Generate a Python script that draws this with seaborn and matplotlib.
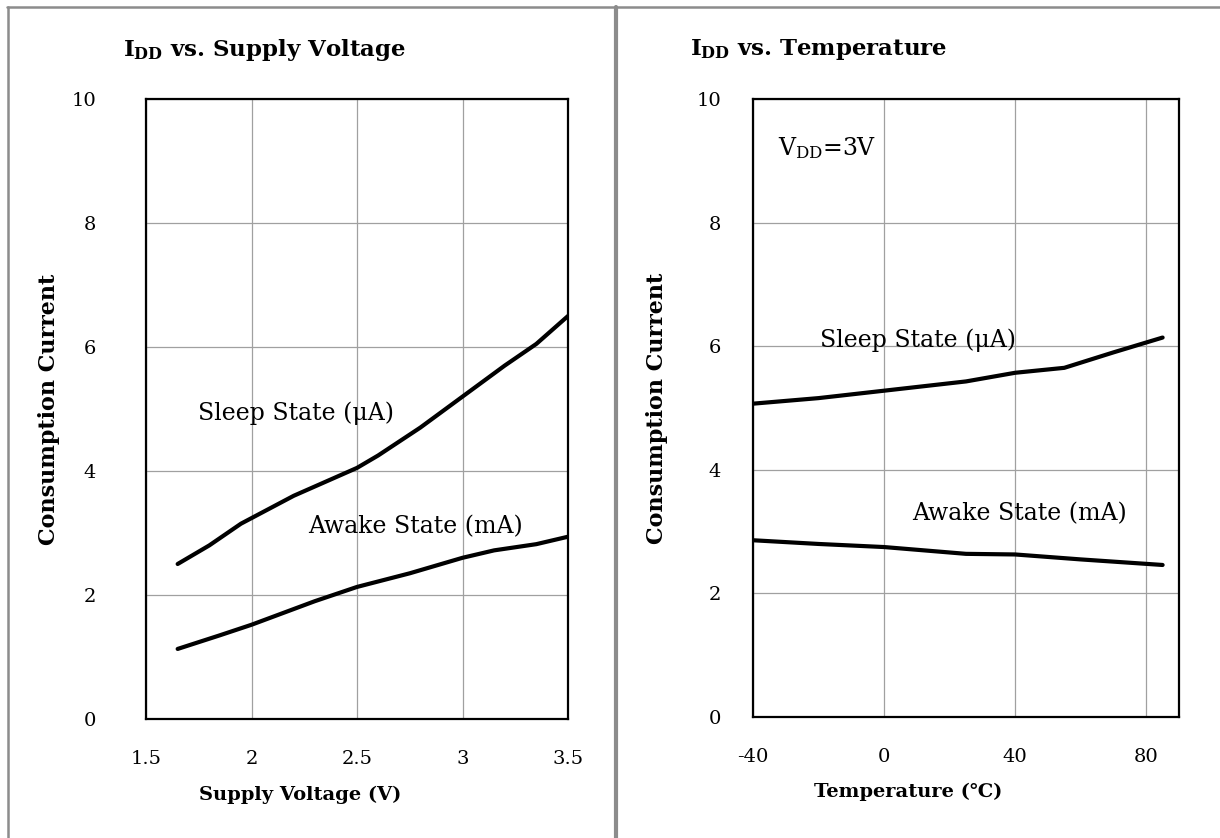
import numpy as np
import pandas as pd
import matplotlib
matplotlib.use('Agg')
import matplotlib.pyplot as plt
from matplotlib.lines import Line2D
import seaborn as sns

# left chart: current vs supply voltage
volt_sleep_x = [1.65, 1.8, 1.95, 2.2, 2.5, 2.6, 2.8, 3.0, 3.2, 3.35, 3.5]
volt_sleep_y = [2.5, 2.8, 3.15, 3.6, 4.05, 4.25, 4.7, 5.2, 5.7, 6.05, 6.5]
volt_awake_x = [1.65, 1.85, 2.0, 2.3, 2.5, 2.75, 3.0, 3.15, 3.35, 3.5]
volt_awake_y = [1.13, 1.35, 1.52, 1.9, 2.13, 2.35, 2.6, 2.72, 2.82, 2.94]

# right chart: current vs temperature (VDD = 3V)
temp_sleep_x = [-40, -20, 0, 25, 40, 55, 70, 85]
temp_sleep_y = [5.07, 5.16, 5.28, 5.43, 5.57, 5.65, 5.9, 6.14]
temp_awake_x = [-40, -20, 0, 25, 40, 60, 85]
temp_awake_y = [2.86, 2.8, 2.75, 2.64, 2.63, 2.55, 2.46]

volt_ticks = [1.5, 2, 2.5, 3, 3.5]
volt_tick_labels = ['1.5', '2', '2.5', '3', '3.5']
temp_ticks = [-40, 0, 40, 80]
temp_tick_labels = ['-40', '0', '40', '80']
current_ticks = [0, 2, 4, 6, 8, 10]

sns.set_theme(style='white')
plt.rcParams['font.family'] = ['DejaVu Serif', 'DejaVu Sans']
plt.rcParams['mathtext.fontset'] = 'dejavuserif'
plt.rcParams['text.color'] = 'black'
plt.rcParams['xtick.color'] = 'black'
plt.rcParams['ytick.color'] = 'black'
plt.rcParams['axes.labelcolor'] = 'black'

volt_df = pd.concat([
    pd.DataFrame({'x': volt_sleep_x, 'y': volt_sleep_y, 'state': 'sleep'}),
    pd.DataFrame({'x': volt_awake_x, 'y': volt_awake_y, 'state': 'awake'}),
])
temp_df = pd.concat([
    pd.DataFrame({'x': temp_sleep_x, 'y': temp_sleep_y, 'state': 'sleep'}),
    pd.DataFrame({'x': temp_awake_x, 'y': temp_awake_y, 'state': 'awake'}),
])

fig = plt.figure(figsize=(12.2, 8.38), dpi=100)
ax1 = fig.add_axes([146 / 1220, 1 - 719 / 838, 422 / 1220, 620 / 838])
ax2 = fig.add_axes([753 / 1220, 1 - 717 / 838, 426 / 1220, 618 / 838])

pal = {'sleep': 'black', 'awake': 'black'}
sns.lineplot(data=volt_df, x='x', y='y', hue='state', palette=pal, lw=3,
             legend=False, ax=ax1, sort=False)
sns.lineplot(data=temp_df, x='x', y='y', hue='state', palette=pal, lw=3,
             legend=False, ax=ax2, sort=False)

ax1.set_xlim(1.5, 3.5)
ax1.set_xticks(volt_ticks)
ax1.set_xticklabels(volt_tick_labels)
ax2.set_xlim(-40, 90)
ax2.set_xticks(temp_ticks)
ax2.set_xticklabels(temp_tick_labels)

for ax, ypad in [(ax1, 36), (ax2, 23)]:
    ax.set_ylim(0, 10)
    ax.set_yticks(current_ticks)
    ax.grid(True, color='#a0a0a0', lw=0.9)
    ax.tick_params(axis='both', length=0, labelsize=14)
    ax.tick_params(axis='y', pad=ypad)
    ax.tick_params(axis='x', pad=22)
    for s in ax.spines.values():
        s.set_color('black')
        s.set_linewidth(1.6)
    ax.set_xlabel('')
    ax.set_ylabel('Consumption Current', fontsize=16, fontweight='bold')

ax1.yaxis.set_label_coords((60 - 146) / 422, 0.5)
ax2.yaxis.set_label_coords((668 - 753) / 426, 0.5)

fig.text(300 / 1220, 1 - 795 / 838, 'Supply Voltage (V)', ha='center', va='center',
         fontsize=14, fontweight='bold')
fig.text(908 / 1220, 1 - 792 / 838, 'Temperature (\u2103)', ha='center', va='center',
         fontsize=14, fontweight='bold')

fig.text(123 / 1220, 1 - 50 / 838, r'$\mathbf{I_{DD}}$ vs. Supply Voltage', ha='left',
         va='center', fontsize=16.5, fontweight='bold')
fig.text(690 / 1220, 1 - 50 / 838, r'$\mathbf{I_{DD}}$ vs. Temperature', ha='left',
         va='center', fontsize=16.5, fontweight='bold')

ax1.text(1.746, 4.93, 'Sleep State (\u03bcA)', ha='left', va='center', fontsize=17)
ax1.text(2.268, 3.1, 'Awake State (mA)', ha='left', va='center', fontsize=17)
ax2.text(-32.4, 9.2, r'V$_{\mathrm{DD}}$=3V', ha='left', va='center', fontsize=17)
ax2.text(-19.6, 6.1, 'Sleep State (\u03bcA)', ha='left', va='center', fontsize=17)
ax2.text(8.5, 3.29, 'Awake State (mA)', ha='left', va='center', fontsize=17)

# panel frame lines
frame_col = '#8c8c8c'
fig.add_artist(Line2D([7 / 1220, 1], [1 - 7 / 838, 1 - 7 / 838], transform=fig.transFigure,
                      color=frame_col, lw=1.8))
fig.add_artist(Line2D([8 / 1220, 8 / 1220], [0, 1 - 7 / 838], transform=fig.transFigure,
                      color=frame_col, lw=1.8))
fig.add_artist(Line2D([616 / 1220, 616 / 1220], [0, 1 - 7 / 838], transform=fig.transFigure,
                      color=frame_col, lw=3))

fig.savefig('out.png', dpi=100)
